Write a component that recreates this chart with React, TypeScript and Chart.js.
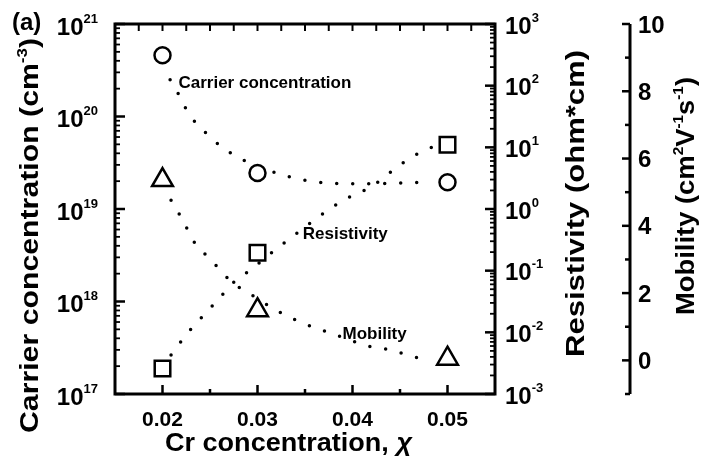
import React, { useEffect, useRef } from "react";
import { Chart, registerables } from "chart.js";

Chart.register(...registerables);

// ---- data ----
const crConcentration = [0.02, 0.03, 0.05];
const carrierConcentration = [4.6e20, 2.45e19, 1.95e19];
const resistivity = [2.6e-3, 0.195, 11];
const mobility = [5.36, 1.49, 0.05];

// dotted guide curves (dot positions)
const carrierFitX = [0.0208, 0.0215, 0.0223, 0.0231, 0.0246, 0.026, 0.0274, 0.029, 0.0319, 0.0334, 0.035, 0.0364, 0.0379, 0.0395, 0.0423, 0.0454, 0.0484];
const carrierFitY = [2.5e20, 1.9e20, 1.3e20, 9.6e19, 6.6e19, 4.9e19, 3.9e19, 3.2e19, 2.47e19, 2.22e19, 2.05e19, 1.95e19, 1.9e19, 1.88e19, 1.88e19, 1.92e19, 1.96e19];

const resistivityFitX = [0.0209, 0.0221, 0.0232, 0.0246, 0.026, 0.0273, 0.029, 0.0319, 0.0336, 0.0363, 0.0379, 0.0395, 0.0409, 0.0424, 0.0439, 0.0453, 0.0468, 0.0484];
const resistivityFitY = [4.3e-3, 7.6e-3, 1.23e-2, 2.1e-2, 3.6e-2, 6.1e-2, 9.6e-2, 0.22, 0.35, 0.72, 1.08, 1.51, 1.89, 2.55, 3.85, 5.58, 7.8, 10.1];

const mobilityFitX = [0.0209, 0.0217, 0.0225, 0.0232, 0.0245, 0.0259, 0.0273, 0.0288, 0.0318, 0.0332, 0.0348, 0.0363, 0.0378, 0.0407, 0.0421, 0.0437, 0.0452, 0.0467, 0.0481];
const mobilityFitY = [4.76, 4.38, 3.96, 3.57, 3.15, 2.74, 2.32, 2.05, 1.52, 1.31, 1.1, 0.95, 0.8, 0.51, 0.39, 0.33, 0.21, 0.09, 0.03];

// tick labels
const xTickValues = [0.02, 0.03, 0.04, 0.05];
const xTickLabels = ["0.02", "0.03", "0.04", "0.05"];
const carrierTickExponents = [17, 18, 19, 20, 21];
const resistivityTickExponents = [-3, -2, -1, 0, 1, 2, 3];
const mobilityTickValues = [0, 2, 4, 6, 8, 10];

// in-plot curve labels (data coordinates: x, carrier-axis y)
const curveLabelText = ["Carrier concentration", "Resistivity", "Mobility"];
const curveLabelX = [0.02168, 0.03476, 0.03895];
const curveLabelY = [2.03e20, 4.75e18, 3.94e17];

const FONT = '"Liberation Sans", Arial, Helvetica, sans-serif';
const fnt = (size: number, italic = false) => `${italic ? "italic " : ""}bold ${size}px ${FONT}`;

type Seg = { t: string; sup?: boolean; it?: boolean };

function drawRich(
  ctx: CanvasRenderingContext2D,
  segs: Seg[],
  size: number,
  x: number,
  y: number,
  o: { align?: "left" | "right" | "center"; rotate?: number; width?: number; supScale?: number; supRaise?: number } = {}
) {
  const supSize = Math.round(size * (o.supScale ?? 0.58));
  const raise = size * (o.supRaise ?? 0.45);
  let total = 0;
  const widths = segs.map((s) => {
    ctx.font = fnt(s.sup ? supSize : size, s.it);
    const w = ctx.measureText(s.t).width;
    total += w;
    return w;
  });
  const sx = o.width ? o.width / total : 1;
  ctx.save();
  ctx.translate(x, y);
  if (o.rotate) ctx.rotate(o.rotate);
  ctx.scale(sx, 1);
  ctx.textAlign = "left";
  ctx.textBaseline = "alphabetic";
  ctx.fillStyle = "#000";
  let cx = o.align === "right" ? -total : o.align === "center" ? -total / 2 : 0;
  segs.forEach((s, i) => {
    ctx.font = fnt(s.sup ? supSize : size, s.it);
    ctx.fillText(s.t, cx, s.sup ? -raise : 0);
    cx += widths[i];
  });
  ctx.restore();
}

const framePlugin = {
  id: "frameAndLabels",
  afterDatasetsDraw(chart: any) {
    const ctx: CanvasRenderingContext2D = chart.ctx;
    const { left: L, right: R, top: T, bottom: B } = chart.chartArea;
    const x = chart.scales.x;
    const yL = chart.scales.yL;
    const yR = chart.scales.yR;
    const yM = chart.scales.yM;
    ctx.save();
    ctx.strokeStyle = "#000";
    ctx.fillStyle = "#000";
    const seg = (x1: number, y1: number, x2: number, y2: number, w = 2) => {
      ctx.lineWidth = w;
      ctx.beginPath();
      ctx.moveTo(x1, y1);
      ctx.lineTo(x2, y2);
      ctx.stroke();
    };

    // left log ticks (inward)
    for (let e = carrierTickExponents[0]; e <= carrierTickExponents[carrierTickExponents.length - 1]; e++) {
      for (let m = 1; m <= 9; m++) {
        const v = m * Math.pow(10, e);
        if (v > 1.0001e21) break;
        const py = yL.getPixelForValue(v);
        seg(L, py, L + (m === 1 ? 10 : 5), py, m === 1 ? 2.5 : 1.8);
      }
    }
    // right log ticks (inward)
    for (let e = resistivityTickExponents[0]; e <= resistivityTickExponents[resistivityTickExponents.length - 1]; e++) {
      for (let m = 1; m <= 9; m++) {
        const v = m * Math.pow(10, e);
        if (v > 1.0001e3) break;
        const py = yR.getPixelForValue(v);
        seg(R, py, R - (m === 1 ? 10 : 5), py, m === 1 ? 2.5 : 1.8);
      }
    }
    // top ticks every 0.0025
    for (let k = 7; k <= 21; k++) {
      const px = x.getPixelForValue(k * 0.0025);
      if (px <= L + 2 || px >= R - 2) continue;
      seg(px, T, px, T + 7, 2);
    }
    // bottom ticks every 0.005
    for (let k = 4; k <= 10; k++) {
      const v = k * 0.005;
      const px = x.getPixelForValue(v);
      if (px <= L + 2 || px >= R - 2) continue;
      seg(px, B, px, B - (k % 2 === 0 ? 9 : 5), 2.5);
    }
    // frame
    ctx.lineWidth = 3;
    ctx.strokeRect(L, T, R - L, B - T);

    // mobility axis
    const mx = yM.left + 1;
    seg(mx, yM.getPixelForValue(10), mx, yM.getPixelForValue(-1), 3);
    for (let v = -1; v <= 10; v++) {
      const py = yM.getPixelForValue(v);
      const major = v % 2 === 0;
      seg(mx, py, mx - (major ? 8 : 5), py, 2.5);
    }

    // x tick labels
    ctx.font = fnt(21);
    ctx.textAlign = "center";
    ctx.textBaseline = "alphabetic";
    xTickValues.forEach((v, i) => {
      ctx.fillText(xTickLabels[i], x.getPixelForValue(v), 426);
    });
    // left tick labels
    carrierTickExponents.forEach((e) => {
      const py = yL.getPixelForValue(Math.pow(10, e));
      drawRich(ctx, [{ t: "10" }, { t: String(e), sup: true }], 24, 98, py + 10.5, { align: "right", supScale: 0.54, supRaise: 0.5 });
    });
    // right tick labels
    resistivityTickExponents.forEach((e) => {
      const py = yR.getPixelForValue(Math.pow(10, e));
      drawRich(ctx, [{ t: "10" }, { t: String(e), sup: true }], 24, 505, py + 9.5, { align: "left", supScale: 0.54, supRaise: 0.5 });
    });
    // mobility tick labels
    ctx.font = fnt(24);
    ctx.textAlign = "left";
    mobilityTickValues.forEach((v) => {
      const py = yM.getPixelForValue(v);
      ctx.fillText(String(v), 638, py + 8.6);
    });

    // axis titles
    drawRich(ctx, [{ t: "Cr concentration, " }, { t: "χ", it: true }], 26, 165, 451, { width: 247 });
    drawRich(ctx, [{ t: "Carrier concentration (cm" }, { t: "-3", sup: true }, { t: ")" }], 25, 38, 433, { rotate: -Math.PI / 2, width: 395 });
    drawRich(ctx, [{ t: "Resistivity (ohm*cm)" }], 25, 584, 357, { rotate: -Math.PI / 2, width: 307 });
    drawRich(
      ctx,
      [{ t: "Mobility (cm" }, { t: "2", sup: true }, { t: "V" }, { t: "-1", sup: true }, { t: "s" }, { t: "-1", sup: true }, { t: ")" }],
      25,
      694,
      315,
      { rotate: -Math.PI / 2, width: 238 }
    );
    // panel label
    ctx.font = fnt(24);
    ctx.textAlign = "left";
    ctx.fillText("(a)", 12, 30);

    // curve labels
    ctx.font = fnt(17);
    curveLabelText.forEach((t, i) => {
      ctx.fillText(t, x.getPixelForValue(curveLabelX[i]), yL.getPixelForValue(curveLabelY[i]));
    });
    ctx.restore();
  },
};

const toXY = (xs: number[], ys: number[]) => xs.map((v, i) => ({ x: v, y: ys[i] }));

export default function App() {
  const ref = useRef<HTMLCanvasElement | null>(null);
  useEffect(() => {
    if (!ref.current) return;
    const dotted = {
      type: "line" as const,
      borderColor: "#000",
      borderWidth: 3.5,
      borderDash: [0, 16],
      borderCapStyle: "round" as const,
      pointRadius: 0,
      fill: false,
      cubicInterpolationMode: "monotone" as const,
      order: 2,
    };
    const marker = {
      type: "scatter" as const,
      showLine: false,
      pointBackgroundColor: "#fff",
      pointBorderColor: "#000",
      pointBorderWidth: 2.5,
      order: 0,
    };
    const chart = new Chart(ref.current, {
      data: {
        datasets: [
          { ...dotted, data: toXY(carrierFitX, carrierFitY), xAxisID: "x", yAxisID: "yL" },
          { ...dotted, data: toXY(resistivityFitX, resistivityFitY), xAxisID: "x", yAxisID: "yR" },
          { ...dotted, data: toXY(mobilityFitX, mobilityFitY), xAxisID: "x", yAxisID: "yM" },
          { ...marker, data: toXY(crConcentration, carrierConcentration), pointStyle: "circle", pointRadius: 8, xAxisID: "x", yAxisID: "yL" },
          { ...marker, data: toXY(crConcentration, resistivity), pointStyle: "rect", pointRadius: 11, xAxisID: "x", yAxisID: "yR" },
          { ...marker, data: toXY(crConcentration, mobility), pointStyle: "triangle", pointRadius: 12, xAxisID: "x", yAxisID: "yM" },
        ] as any,
      },
      options: {
        responsive: false,
        animation: false,
        devicePixelRatio: 1,
        layout: { padding: { top: 24, left: 0, right: 0, bottom: 0 } },
        plugins: { legend: { display: false }, tooltip: { enabled: false } },
        scales: {
          x: {
            type: "linear",
            position: "bottom",
            min: 0.015,
            max: 0.055,
            ticks: { display: false },
            grid: { display: false },
            border: { display: false },
            afterFit: (s: any) => { s.height = 73; },
          },
          yL: {
            type: "logarithmic",
            position: "left",
            min: 1e17,
            max: 1e21,
            ticks: { display: false },
            grid: { display: false },
            border: { display: false },
            afterFit: (s: any) => { s.width = 115; },
          },
          yR: {
            type: "logarithmic",
            position: "right",
            weight: 0,
            min: 1e-3,
            max: 1e3,
            ticks: { display: false },
            grid: { display: false },
            border: { display: false },
            afterFit: (s: any) => { s.width = 134; },
          },
          yM: {
            type: "linear",
            position: "right",
            weight: 1,
            min: -1,
            max: 10,
            ticks: { display: false },
            grid: { display: false },
            border: { display: false },
            afterFit: (s: any) => { s.width = 75; },
          },
        } as any,
      },
      plugins: [framePlugin],
    });
    return () => chart.destroy();
  }, []);
  return (
    <div style={{ position: "fixed", left: 0, top: 0, width: 704, height: 467, background: "#fff" }}>
      <canvas ref={ref} width={704} height={467} style={{ display: "block", width: 704, height: 467 }} />
    </div>
  );
}
